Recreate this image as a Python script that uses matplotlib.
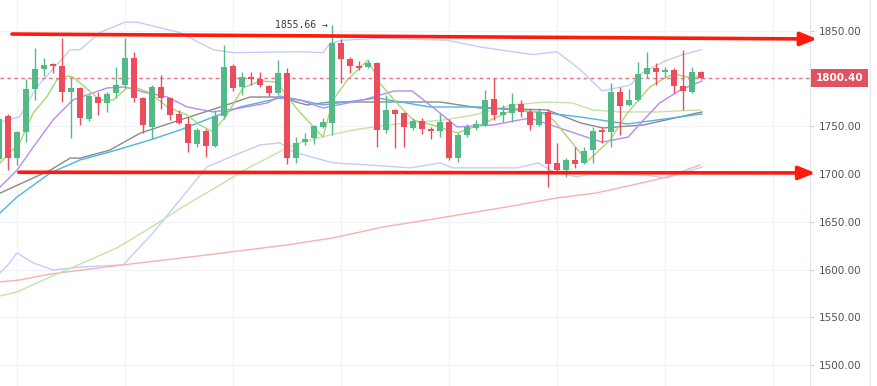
import numpy as np
import matplotlib
matplotlib.use("Agg")
import matplotlib.pyplot as plt
import matplotlib.transforms as mtransforms
from matplotlib.patches import Rectangle, FancyArrowPatch
from matplotlib.lines import Line2D

# OHLC of the visible candles (left to right)
opens = [1715.5, 1761.1, 1717.2, 1743.7, 1788.7, 1809.6, 1814.9, 1813.1, 1785.6, 1789.8,
         1757.9, 1781.0, 1774.7, 1784.5, 1793.2, 1821.1, 1779.9, 1749.6, 1791.4, 1779.3,
         1762.9, 1752.1, 1731.5, 1745.1, 1729.4, 1760.8, 1813.1, 1791.4, 1801.3, 1799.2,
         1792.2, 1784.9, 1806.0, 1717.2, 1733.9, 1737.4, 1749.6, 1753.1, 1836.8, 1820.4,
         1813.1, 1812.3, 1815.9, 1746.1, 1767.1, 1763.6, 1747.9, 1755.5, 1747.2, 1745.1,
         1754.8, 1716.5, 1740.9, 1747.9, 1751.4, 1778.2, 1761.8, 1764.2, 1773.3, 1765.3,
         1751.4, 1765.3, 1711.3, 1704.3, 1714.7, 1711.3, 1725.2, 1746.1, 1744.4, 1786.2,
         1772.3, 1777.5, 1804.4, 1811.3, 1807.1, 1808.9, 1792.2, 1786.2, 1806.5]
highs = [1760.0, 1763.0, 1745.5, 1799.5, 1831.6, 1821.4, 1816.5, 1842.0, 1801.9, 1791.0,
         1783.5, 1786.2, 1786.0, 1812.3, 1842.0, 1827.4, 1781.0, 1793.2, 1803.7, 1780.5,
         1767.1, 1760.0, 1748.0, 1747.0, 1767.1, 1835.0, 1815.0, 1807.1, 1807.1, 1807.1,
         1793.5, 1819.4, 1810.6, 1738.6, 1742.7, 1751.4, 1758.4, 1855.66, 1841.0, 1822.0,
         1818.3, 1819.4, 1817.6, 1782.7, 1768.0, 1765.0, 1758.4, 1758.4, 1749.3, 1762.9,
         1757.4, 1743.3, 1752.5, 1756.6, 1788.0, 1800.2, 1772.0, 1784.5, 1778.0, 1768.0,
         1768.9, 1768.0, 1732.2, 1717.0, 1728.7, 1728.7, 1749.6, 1749.6, 1795.0, 1791.4,
         1788.7, 1817.6, 1828.0, 1815.9, 1812.3, 1810.5, 1829.8, 1812.3, 1807.5]
lows = [1712.0, 1704.3, 1709.5, 1733.6, 1777.5, 1802.6, 1805.8, 1775.1, 1738.1, 1751.4,
        1756.0, 1761.8, 1765.3, 1780.0, 1790.0, 1775.1, 1742.7, 1736.4, 1767.8, 1757.0,
        1752.0, 1723.4, 1728.7, 1717.6, 1728.0, 1758.0, 1787.0, 1782.7, 1793.2, 1791.0,
        1782.0, 1783.0, 1710.6, 1711.3, 1730.4, 1731.2, 1748.0, 1740.9, 1795.0, 1805.5,
        1809.0, 1811.0, 1728.7, 1742.7, 1727.0, 1728.7, 1746.1, 1741.6, 1736.4, 1739.1,
        1715.0, 1713.0, 1739.0, 1746.1, 1750.0, 1756.6, 1754.8, 1754.8, 1760.0, 1746.1,
        1750.0, 1686.8, 1702.0, 1697.3, 1706.0, 1710.6, 1711.3, 1732.2, 1728.7, 1740.9,
        1771.0, 1776.0, 1800.2, 1793.2, 1800.2, 1784.5, 1767.1, 1785.0, 1799.5]
closes = [1757.3, 1716.5, 1743.7, 1788.7, 1809.6, 1814.1, 1813.1, 1785.6, 1789.8, 1758.4,
          1782.0, 1774.1, 1783.8, 1793.2, 1821.1, 1779.9, 1751.4, 1791.4, 1779.3, 1761.8,
          1753.8, 1732.2, 1746.1, 1729.4, 1760.8, 1812.3, 1789.8, 1801.3, 1799.2, 1793.2,
          1784.5, 1805.4, 1716.5, 1732.8, 1736.7, 1750.3, 1754.8, 1836.8, 1820.1, 1813.4,
          1811.3, 1815.9, 1746.1, 1767.1, 1762.9, 1749.6, 1755.5, 1747.2, 1745.1, 1754.8,
          1716.5, 1740.9, 1749.0, 1752.1, 1777.5, 1761.8, 1765.3, 1773.3, 1765.3, 1751.4,
          1765.3, 1710.6, 1704.3, 1714.7, 1710.6, 1724.5, 1745.1, 1743.7, 1786.2, 1771.2,
          1777.5, 1804.4, 1811.3, 1807.1, 1808.9, 1792.2, 1787.2, 1806.5, 1800.4]

# indicator lines: (bar position, price)
bb_upper_x = [0, 2.3, 4.2, 7.9, 9, 11.2, 14, 15.3, 20.1, 23.8, 26, 33.4, 36, 36.8, 38.2,
              42.3, 49.8, 53.4, 59.3, 62, 64.6, 67, 70.1, 71.6, 74.2, 76, 78]
bb_upper_y = [1754, 1760, 1791, 1830, 1830, 1848, 1859, 1859, 1848, 1830, 1827, 1828, 1827,
              1837, 1840, 1842, 1840, 1833, 1825, 1828, 1809, 1787, 1793, 1807, 1819, 1825, 1830]
bb_lower_x = [0.1, 1, 2, 3.8, 6, 9.3, 13.8, 17.1, 20.1, 23.1, 26, 29, 31.2, 32.7, 37.1,
              40.9, 45.7, 49, 50.4, 57.6, 59.9, 61.6, 64.2, 65.7, 71.6, 74.2, 77.1, 78.1]
bb_lower_y = [1596.6, 1605.0, 1617.5, 1607.1, 1599.7, 1602.9, 1605.0, 1638.4, 1673.0, 1707.5,
              1719.0, 1730.5, 1732.6, 1723.2, 1711.7, 1709.6, 1706.5, 1711.7, 1706.5, 1706.5,
              1711.7, 1702.3, 1697.0, 1700.2, 1699.1, 1696.0, 1704.3, 1707.4]
ma_long_x = [0.1, 2.3, 5.7, 13.8, 23.1, 32, 37.1, 42.7, 49, 56.4, 62, 66.4, 70.4, 74.2, 77.9]
ma_long_y = [1587.2, 1589.2, 1595.5, 1605.0, 1615.4, 1625.9, 1633.2, 1644.7, 1654.1, 1665.6,
             1675.0, 1680.3, 1688.6, 1697.0, 1709.6]
ma_slow_x = [0.1, 2, 5.7, 9.3, 13.1, 16.8, 20.4, 24.2, 27.9, 31.6, 33.4, 36.8, 39.4, 43.1,
             49.4, 52.8, 57, 60.7, 63.7, 65.9, 69, 73.1, 77.9]
ma_slow_y = [1572.5, 1576.7, 1592.4, 1607.1, 1622.8, 1643.7, 1665.6, 1686.6, 1707.5, 1725.3,
             1732.6, 1741.0, 1746.1, 1751.4, 1756.6, 1761.8, 1772.3, 1775.4, 1774.4, 1767.1,
             1765.0, 1765.0, 1767.1]
ma_grey_x = [0.1, 5.7, 7.9, 9, 12.3, 15.7, 20.1, 24.6, 27.9, 31.2, 33.4, 34.2, 36.8, 42.3,
             49, 53.4, 60.9, 64.6, 67.1, 71.6, 78.1]
ma_grey_y = [1680.0, 1704.1, 1716.7, 1716.7, 1725.0, 1742.9, 1756.6, 1770.2, 1780.6, 1780.6,
             1774.4, 1772.3, 1775.4, 1775.4, 1775.4, 1769.1, 1767.1, 1753.5, 1748.2, 1751.4, 1765.0]
ma_blue_x = [0.1, 2, 5.7, 9, 12.3, 16.8, 20.1, 23.8, 26.8, 31.2, 33.4, 36, 42, 47.9, 53.4,
             57.1, 60.9, 64.6, 69.8, 78.1]
ma_blue_y = [1659.3, 1676.0, 1701.2, 1714.8, 1723.1, 1735.7, 1746.1, 1759.7, 1770.2, 1779.6,
             1777.5, 1772.3, 1779.6, 1770.2, 1770.2, 1767.1, 1763.9, 1759.7, 1752.4, 1762.9]
ma_purple_x = [0.1, 2, 3.8, 6, 8.2, 12, 14, 16, 18.7, 20.9, 23.8, 26.8, 29.8, 31.2, 33.4, 36,
               40.4, 43.9, 45.9, 48.3, 50.9, 54.9, 59, 64.6, 67, 69.9, 71.6, 73.4, 75.7, 78.1]
ma_purple_y = [1686.3, 1704.1, 1728.2, 1756.6, 1777.5, 1790.1, 1791.1, 1785.9, 1780.6, 1770.2,
               1765.0, 1769.1, 1774.4, 1781.7, 1777.5, 1769.1, 1777.5, 1786.9, 1786.9, 1769.1,
               1749.3, 1751.4, 1758.7, 1740.8, 1733.4, 1738.7, 1756.6, 1774.4, 1788.0, 1797.4]
ma_fast_x = [0.1, 2.3, 3.8, 5.3, 6.4, 7.6, 8.2, 9.8, 11.2, 12.7, 14.2, 15.3, 16.8, 18.7, 20.9,
             22.3, 23.8, 25.3, 27.1, 29, 30.9, 32.3, 33.4, 36, 37.1, 38.7, 41, 42.3, 44.2, 46,
             48.2, 50.9, 53.4, 57.1, 60.1, 61.6, 64.6, 65.3, 67.9, 69.8, 72.3, 74.2, 75.1,
             76.4, 78.1]
ma_fast_y = [1711.7, 1732.6, 1764.0, 1780.6, 1798.4, 1802.6, 1801.6, 1789.0, 1777.5, 1777.5,
             1790.1, 1790.1, 1784.8, 1770.2, 1761.8, 1751.4, 1744.0, 1761.8, 1790.1, 1797.4,
             1796.3, 1777.5, 1765.0, 1738.8, 1777.5, 1798.4, 1819.4, 1795.2, 1774.3, 1756.6,
             1751.3, 1743.0, 1751.3, 1767.1, 1765.0, 1756.6, 1722.0, 1712.6, 1735.7, 1763.9,
             1791.1, 1801.6, 1804.7, 1801.6, 1801.6]

# drawn trend lines: (start bar, start price, end bar, end price)
top_line = (1.44, 1846.5, 90.9, 1841.3)
bottom_line = (2.2, 1701.9, 90.7, 1701.2)

y_ticks = [1500, 1550, 1600, 1650, 1700, 1750, 1800, 1850]
last_price = 1800.40
high_label = 1855.66
high_bar = 37

UP = "#53b987"
DOWN = "#eb4d5c"

fig = plt.figure(figsize=(8.78, 3.86), dpi=100)
ax = fig.add_axes([0, 0, 810 / 878, 1])
ax.set_xlim(0.11, 90.1)
ax.set_ylim(1478.3, 1882.1)

# grid
ax.set_xticks(np.arange(2, 90, 12))
ax.set_yticks(y_ticks)
# the 1800 label sits under the last-price tag, so leave it blank
ax.set_yticklabels(["" if v == 1800 else f"{v:.2f}" for v in y_ticks])
ax.grid(True, color="#f0f3f8", lw=1)
ax.set_axisbelow(True)
ax.tick_params(axis="x", length=0, labelbottom=False)
ax.yaxis.tick_right()
ax.tick_params(axis="y", length=3, color="#c8ccd4", labelcolor="#50535e",
               labelsize=7.5, pad=3.5)
for s in ["top", "left", "bottom"]:
    ax.spines[s].set_visible(False)
ax.spines["right"].set_color("#dfe2e8")

# indicators
ax.plot(bb_upper_x, bb_upper_y, color="#c3cdf6", lw=1, zorder=2)
ax.plot(bb_lower_x, bb_lower_y, color="#c3cdf6", lw=1, zorder=2)
ax.plot(ma_long_x, ma_long_y, color="#f6b1b1", lw=1, zorder=2)
ax.plot(ma_slow_x, ma_slow_y, color="#c3e4a4", lw=1, zorder=2)
ax.plot(ma_grey_x, ma_grey_y, color="#8a8a8a", lw=1, zorder=2)
ax.plot(ma_blue_x, ma_blue_y, color="#4cb5e6", lw=1, zorder=2)
ax.plot(ma_purple_x, ma_purple_y, color="#b98af0", lw=1, zorder=2)
ax.plot(ma_fast_x, ma_fast_y, color="#a6d874", lw=1, zorder=2)

# candles
xs = np.arange(len(opens))
o = np.array(opens); c = np.array(closes)
colors = [UP if cc >= oo else DOWN for oo, cc in zip(o, c)]
ax.vlines(xs, lows, highs, colors=colors, lw=1, zorder=3)
body_lo = np.minimum(o, c)
body_h = np.maximum(np.abs(c - o), 1.2)
ax.bar(xs, body_h, bottom=body_lo, width=0.68, color=colors, lw=0, zorder=4)

# last price line + label
ax.axhline(last_price, color="#ee7380", lw=1, dashes=(2.5, 2.5), zorder=2)
tr = mtransforms.blended_transform_factory(fig.transFigure, ax.transData)
fig.patches.append(Rectangle((811 / 878, last_price - 9.2), 57 / 878, 18.4,
                             transform=tr, fc="#e0525f", ec="none", zorder=5))
fig.text(816 / 878, last_price, f"{last_price:.2f}", transform=tr, color="white",
         fontsize=7.5, fontweight="bold", va="center", ha="left", zorder=6)

# high marker
ax.annotate(f"{high_label:.2f} \u2192", xy=(high_bar, high_label), xytext=(-3, 0),
            textcoords="offset points", ha="right", va="center",
            fontsize=7, family="DejaVu Sans Mono", color="#3a3a3a")

# red support / resistance arrows
for x0, y0, x1, y1 in [top_line, bottom_line]:
    arr = FancyArrowPatch((x0, y0), (x1, y1), arrowstyle="-|>,head_length=1.0,head_width=0.4",
                          mutation_scale=10, color="#ff1a0d", lw=2.6, clip_on=False,
                          shrinkA=0, shrinkB=0, zorder=7)
    ax.add_patch(arr)

fig.add_artist(Line2D([870 / 878, 870 / 878], [0, 1], color="#e6e8ee", lw=1))

fig.savefig("out.png", dpi=100)
